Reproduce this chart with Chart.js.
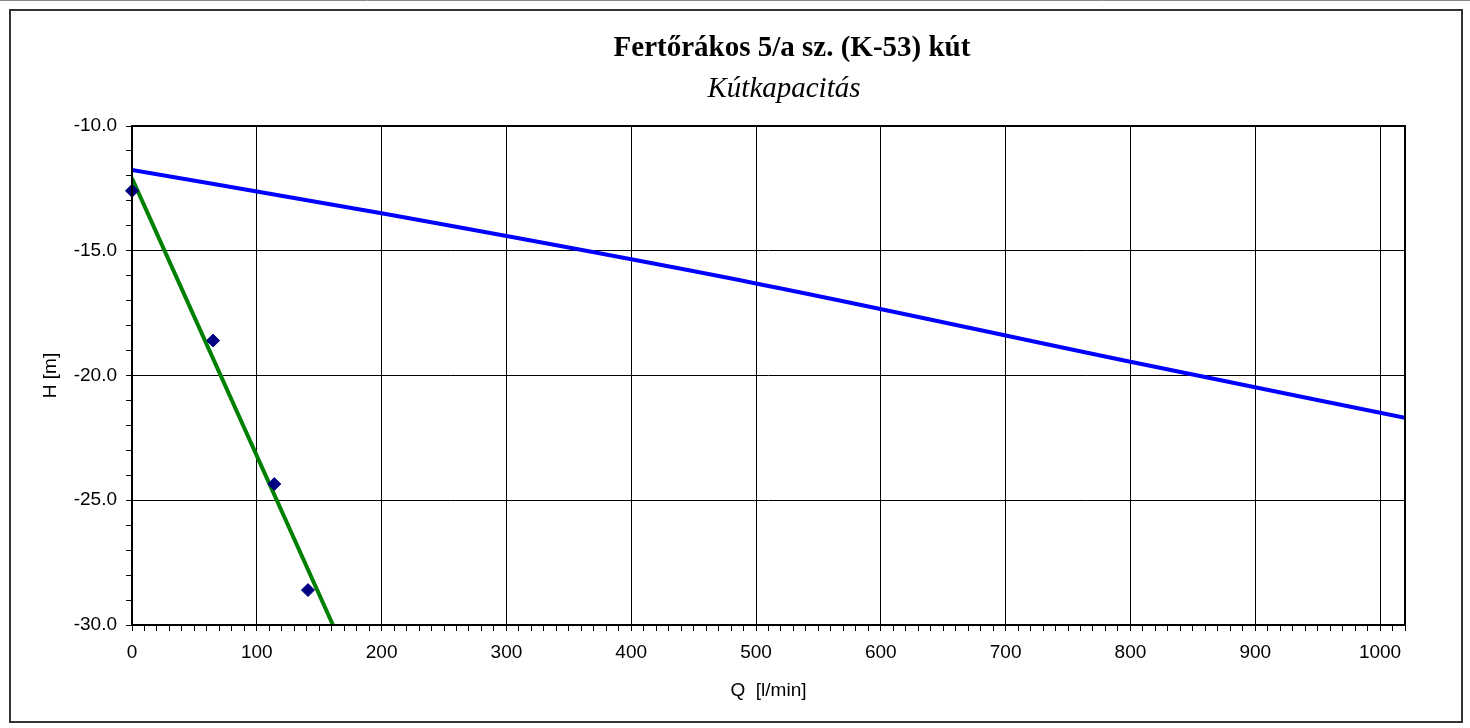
<!DOCTYPE html>
<html>
<head>
<meta charset="utf-8">
<script src="https://cdn.jsdelivr.net/npm/chart.js@4.4.1/dist/chart.umd.min.js"></script>
<style>
  html, body { margin: 0; padding: 0; background: #fff; }
  #wrap { width: 1470px; height: 728px; position: relative; }
</style>
</head>
<body>
<div id="wrap"><canvas id="chart"></canvas></div>
<script>
// measured points (Q l/min, H m)
const measQ = [0, 65, 114, 141];
const measH = [-12.6, -18.6, -24.35, -28.6];

// blue capacity curve
const blueQ = [0, 200, 500, 800, 1020];
const blueH = [-11.76, -13.5, -16.31, -19.45, -21.7];
// green fitted line, end points
const greenQ = [0, 161];
const greenH = [-12.1, -30];

const chartTitle = 'Fertőrákos 5/a sz. (K-53) kút';
const chartSubtitle = 'Kútkapacitás';

const toXY = (xs, ys) => xs.map((x, i) => ({ x: x, y: ys[i] }));

// titles sit a bit right of centre in the original, so draw them here
const titlePlugin = {
    id: 'titles',
    afterDraw(chart) {
        const ctx = chart.ctx;
        ctx.save();
        ctx.fillStyle = '#000';
        ctx.textAlign = 'center';
        ctx.textBaseline = 'middle';
        ctx.font = 'bold 29px "Liberation Serif"';
        ctx.fillText(chartTitle, 792, 49);
        ctx.font = 'italic 29px "Liberation Serif"';
        ctx.fillText(chartSubtitle, 784, 89);
        ctx.restore();
    }
};

// frame round the plot area and the whole picture
const framePlugin = {
    id: 'frame',
    afterDraw(chart) {
        const { ctx, chartArea: a } = chart;
        ctx.save();
        ctx.strokeStyle = '#000';
        ctx.lineWidth = 2;
        ctx.strokeRect(a.left, a.top, a.right - a.left, a.bottom - a.top);
        ctx.strokeStyle = '#333';
        ctx.strokeRect(10, 10, 1452, 712);
        ctx.strokeStyle = '#888';
        ctx.lineWidth = 1;
        ctx.beginPath();
        ctx.moveTo(0, 0.5);
        ctx.lineTo(1470, 0.5);
        ctx.stroke();
        ctx.restore();
    }
};

new Chart(document.getElementById('chart').getContext('2d'), {
    type: 'scatter',
    data: {
        datasets: [
            {
                label: 'mért',
                data: toXY(measQ, measH),
                pointStyle: 'rectRot',
                pointRadius: 6.5,
                backgroundColor: '#000080',
                borderColor: '#000080',
                clip: false,
                order: 0
            },
            {
                label: 'kék',
                type: 'line',
                data: toXY(blueQ, blueH),
                borderColor: '#0000FF',
                borderWidth: 4,
                pointRadius: 0,
                cubicInterpolationMode: 'monotone',
                order: 2
            },
            {
                label: 'zöld',
                type: 'line',
                data: toXY(greenQ, greenH),
                borderColor: '#008000',
                borderWidth: 4,
                pointRadius: 0,
                order: 1
            }
        ]
    },
    options: {
        responsive: true,
        maintainAspectRatio: false,
        animation: false,
        layout: { padding: { left: 10, right: 65, top: 126, bottom: 10 } },
        plugins: {
            legend: { display: false },
            tooltip: { enabled: false },
            title: { display: false },
            subtitle: { display: false }
        },
        scales: {
            x: {
                type: 'linear',
                min: 0,
                max: 1020,
                afterFit(scale) { scale.height = 93; },
                border: { display: false },
                grid: {
                    color: c => (c.tick && c.tick.value % 100 === 0) ? '#000' : 'rgba(0,0,0,0)',
                    tickColor: '#000',
                    tickLength: 6,
                    lineWidth: 1
                },
                ticks: {
                    stepSize: 10,
                    autoSkip: false,
                    maxRotation: 0,
                    padding: 10,
                    color: '#000',
                    font: { family: 'Liberation Sans', size: 19 },
                    callback: v => (v % 100 === 0 ? String(v) : '')
                },
                title: {
                    display: true,
                    text: 'Q  [l/min]',
                    color: '#000',
                    font: { family: 'Liberation Sans', size: 19 },
                    padding: { top: 0, bottom: 16 }
                }
            },
            y: {
                type: 'linear',
                min: -30,
                max: -10,
                afterFit(scale) { scale.width = 122; },
                border: { display: false },
                grid: {
                    color: c => (c.tick && c.tick.value % 5 === 0) ? '#000' : 'rgba(0,0,0,0)',
                    tickColor: '#000',
                    tickLength: 6,
                    lineWidth: 1
                },
                ticks: {
                    stepSize: 1,
                    autoSkip: false,
                    padding: 9,
                    color: '#000',
                    font: { family: 'Liberation Sans', size: 19 },
                    callback: v => (v % 5 === 0 ? v.toFixed(1) : '')
                },
                title: {
                    display: true,
                    text: 'H [m]',
                    color: '#000',
                    font: { family: 'Liberation Sans', size: 19 },
                    padding: { top: 29, bottom: 0 }
                }
            }
        }
    },
    plugins: [titlePlugin, framePlugin]
});
</script>
</body>
</html>
